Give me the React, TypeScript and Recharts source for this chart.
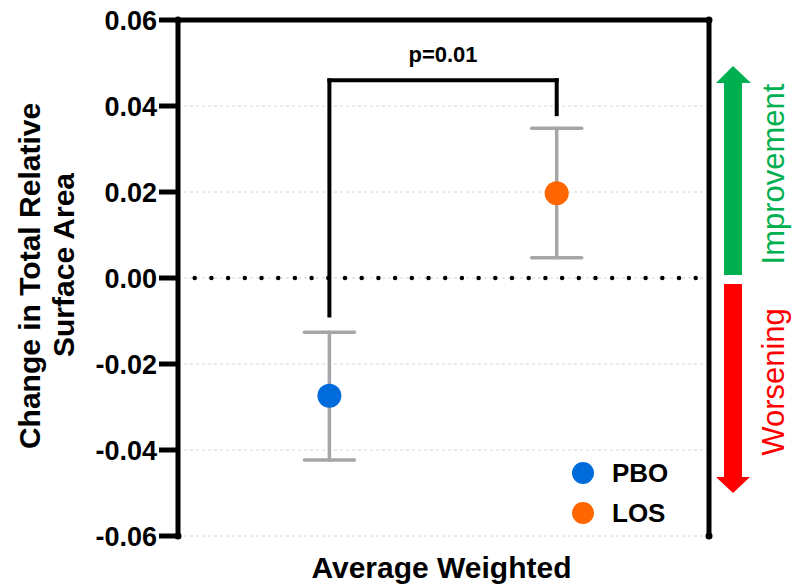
import React from 'react';
import {
  ScatterChart,
  Scatter,
  XAxis,
  YAxis,
  CartesianGrid,
  ReferenceLine,
  ErrorBar,
  Legend,
  Customized,
} from 'recharts';

// ---- data ----
const groups = ['PBO', 'LOS'];
const groupX = [0, 1];
const means = [-0.0274, 0.0197];
const uppers = [-0.0126, 0.0348];
const lowers = [-0.0423, 0.0047];
const colors = ['#006BDB', '#FF6600'];
const yTicks = [-0.06, -0.04, -0.02, 0, 0.02, 0.04, 0.06];
const xLabel = 'Average Weighted';
const yLabelLines = ['Change in Total Relative', 'Surface Area'];
const pValueLabel = 'p=0.01';
const bracketTop = 0.046;
const bracketLeftEnd = -0.0087;
const bracketRightEnd = 0.0381;
const improvementLabel = 'Improvement';
const worseningLabel = 'Worsening';

// ---- layout ----
const W = 792;
const H = 588;
const FONT = '"Liberation Sans", Arial, Helvetica, sans-serif';
const X_DOMAIN: [number, number] = [-0.666, 1.67];
const PLOT = { left: 178, top: 20, right: 709, bottom: 536 };
const GREEN = '#00B050';
const RED = '#FF0000';
const ERR_GRAY = '#A6A6A9';
const AXIS_W = 5;
const BRACKET_W = 4;

const seriesData = groups.map((g, i) => [
  {
    x: groupX[i],
    y: means[i],
    err: [means[i] - lowers[i], uppers[i] - means[i]],
    name: g,
  },
]);

const Dot = (props: any) => {
  const { cx, cy, fill } = props;
  if (cx == null || cy == null) return null;
  return <circle cx={cx} cy={cy} r={12} fill={fill} />;
};

const Decorations = () => {
  const cy = (PLOT.top + PLOT.bottom) / 2;
  return (
    <g style={{ fontFamily: FONT }}>
      <text
        transform={`translate(40, ${cy - 2}) rotate(-90)`}
        textAnchor="middle"
        fontSize={30}
        fontWeight="bold"
        fill="#000"
      >
        {yLabelLines[0]}
      </text>
      <text
        transform={`translate(74, ${cy - 13}) rotate(-90)`}
        textAnchor="middle"
        fontSize={30}
        fontWeight="bold"
        fill="#000"
      >
        {yLabelLines[1]}
      </text>
      <text
        x={(PLOT.left + PLOT.right) / 2 - 2}
        y={578}
        textAnchor="middle"
        fontSize={30}
        fontWeight="bold"
        fill="#000"
      >
        {xLabel}
      </text>
      {/* corner knobs */}
      <circle cx={PLOT.left} cy={PLOT.top} r={3.5} fill="#000" />
      <circle cx={PLOT.left} cy={PLOT.bottom} r={3.5} fill="#000" />
      <circle cx={PLOT.right} cy={PLOT.top} r={3.5} fill="#000" />
      <circle cx={PLOT.right} cy={PLOT.bottom} r={3.5} fill="#000" />
      {/* improvement arrow */}
      <polygon
        points="724,275 742,275 742,83 751,83 733,66 716,83 724,83"
        fill={GREEN}
      />
      {/* worsening arrow */}
      <polygon
        points="724,284 742,284 742,477 750,477 733,493 716,477 724,477"
        fill={RED}
      />
      <text
        transform={`translate(784, 174) rotate(-90)`}
        textAnchor="middle"
        fontSize={31}
        fill={GREEN}
      >
        {improvementLabel}
      </text>
      <text
        transform={`translate(784, 382) rotate(-90)`}
        textAnchor="middle"
        fontSize={31}
        fill={RED}
      >
        {worseningLabel}
      </text>
    </g>
  );
};

const LegendBox = () => (
  <div style={{ fontFamily: FONT }}>
    {groups.map((g, i) => (
      <div
        key={g}
        style={{
          display: 'flex',
          alignItems: 'center',
          height: 40,
        }}
      >
        <span
          style={{
            display: 'inline-block',
            width: 22,
            height: 22,
            borderRadius: 11,
            background: colors[i],
            marginLeft: 2,
            marginRight: 18,
          }}
        />
        <span style={{ fontSize: 26, fontWeight: 'bold', color: '#000', lineHeight: '40px' }}>{g}</span>
      </div>
    ))}
  </div>
);

export default function App() {
  return (
    <div style={{ position: 'absolute', left: 0, top: 0, width: W, height: H, background: '#fff' }}>
      <ScatterChart
        width={W}
        height={H}
        margin={{ top: PLOT.top, right: W - PLOT.right, bottom: H - PLOT.bottom, left: 0 }}
        style={{ fontFamily: FONT }}
      >
        <CartesianGrid vertical={false} stroke="#D4D4D4" strokeDasharray="3 3" />
        <XAxis
          type="number"
          dataKey="x"
          domain={X_DOMAIN}
          allowDataOverflow
          tick={false}
          tickLine={false}
          height={0}
          axisLine={{ stroke: '#000', strokeWidth: AXIS_W }}
        />
        <YAxis
          type="number"
          dataKey="y"
          domain={[-0.06, 0.06]}
          allowDataOverflow
          ticks={yTicks}
          interval={0}
          width={PLOT.left}
          tickSize={19}
          tickMargin={2}
          tickFormatter={(v: number) => v.toFixed(2)}
          tick={{ fill: '#000', fontSize: 27, fontWeight: 'bold', fontFamily: FONT }}
          tickLine={{ stroke: '#000', strokeWidth: AXIS_W }}
          axisLine={{ stroke: '#000', strokeWidth: AXIS_W }}
        />
        <ReferenceLine y={0.06} stroke="#000" strokeWidth={AXIS_W} />
        <ReferenceLine x={X_DOMAIN[1]} stroke="#000" strokeWidth={AXIS_W} />
        <ReferenceLine
          y={0}
          stroke="#000"
          strokeWidth={4.5}
          strokeDasharray="0 16.7"
          strokeLinecap="round"
        />
        <ReferenceLine
          segment={[
            { x: groupX[0], y: bracketLeftEnd },
            { x: groupX[0], y: bracketTop },
          ]}
          stroke="#000"
          strokeWidth={BRACKET_W}
          strokeLinecap="square"
        />
        <ReferenceLine
          segment={[
            { x: groupX[0], y: bracketTop },
            { x: groupX[1], y: bracketTop },
          ]}
          stroke="#000"
          strokeWidth={BRACKET_W}
          strokeLinecap="square"
          label={{
            value: pValueLabel,
            position: 'top',
            offset: 18,
            fill: '#000',
            fontSize: 22,
            fontWeight: 'bold',
            fontFamily: FONT,
          }}
        />
        <ReferenceLine
          segment={[
            { x: groupX[1], y: bracketTop },
            { x: groupX[1], y: bracketRightEnd },
          ]}
          stroke="#000"
          strokeWidth={BRACKET_W}
          strokeLinecap="square"
        />
        {groups.map((g, i) => (
          <Scatter
            key={g}
            name={g}
            data={seriesData[i]}
            fill={colors[i]}
            shape={Dot}
            isAnimationActive={false}
          >
            <ErrorBar
              dataKey="err"
              direction="y"
              width={25}
              stroke={ERR_GRAY}
              strokeWidth={3.5}
              strokeLinecap="round"
              isAnimationActive={false}
            />
          </Scatter>
        ))}
        <Legend
          layout="vertical"
          align="center"
          verticalAlign="middle"
          content={() => <LegendBox />}
          wrapperStyle={{ position: 'absolute', left: 570, top: 453, width: 130, height: 80 }}
        />
        <Customized component={Decorations} />
      </ScatterChart>
    </div>
  );
}
